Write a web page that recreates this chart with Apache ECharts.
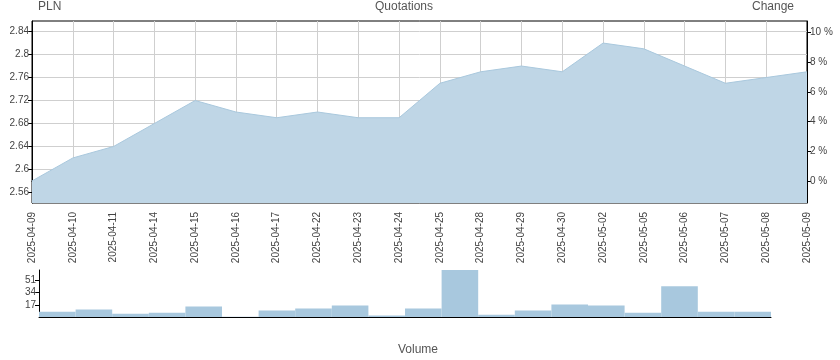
<!DOCTYPE html>
<html>
<head>
<meta charset="utf-8">
<script src="https://cdn.jsdelivr.net/npm/echarts@6/dist/echarts.min.js"></script>
<style>html,body{margin:0;padding:0;background:#fff}#c{width:840px;height:360px}</style>
</head>
<body>
<div id="c"></div>
<script>
const dates = ['2025-04-09','2025-04-10','2025-04-11','2025-04-14','2025-04-15','2025-04-16','2025-04-17','2025-04-22','2025-04-23','2025-04-24','2025-04-25','2025-04-28','2025-04-29','2025-04-30','2025-05-02','2025-05-05','2025-05-06','2025-05-07','2025-05-08','2025-05-09'];
const prices = [2.58,2.62,2.64,2.68,2.72,2.70,2.69,2.70,2.69,2.69,2.75,2.77,2.78,2.77,2.82,2.81,2.78,2.75,2.76,2.77];
const volumes = [7.5,10.4,4.7,6,14.6,0.5,9,12,16,2,12,65.6,3.3,9,17.4,16,6,43,7.5,7.5];
const priceTicks = [2.56,2.6,2.64,2.68,2.72,2.76,2.8,2.84];
const changeTicks = [0,2,4,6,8,10];
const volumeTicks = [17,34,51];

const pMin = Math.min(...prices), pMax = Math.max(...prices);
const pad = (pMax - pMin) * 0.16;
const axMin = pMin - pad, axMax = pMax + pad;
const base = prices[0];
const chMin = (axMin / base - 1) * 100, chMax = (axMax / base - 1) * 100;

const font = 'Liberation Sans, Arial, sans-serif';
const lblColor = '#444';
const tStyle = {fontSize: 12, fontWeight: 'normal', color: '#555', fontFamily: font};
const chart = echarts.init(document.getElementById('c'), null, {renderer: 'canvas'});
chart.setOption({
  animation: false,
  textStyle: {fontFamily: font},
  title: [
    {text: 'PLN', left: 38, top: 1, padding: 0, textStyle: tStyle},
    {text: 'Quotations', left: 375, top: 1, padding: 0, textStyle: tStyle},
    {text: 'Change', left: 752, top: 1, padding: 0, textStyle: tStyle},
    {text: 'Volume', left: 398, top: 344, padding: 0, textStyle: tStyle}
  ],
  grid: [
    {left: 32, right: 33, top: 21, height: 182, show: true, borderColor: '#000', borderWidth: 1, containLabel: false},
    {left: 39, right: 69, top: 270, height: 47, containLabel: false}
  ],
  xAxis: [
    {type: 'category', gridIndex: 0, data: dates, boundaryGap: false,
     axisLine: {lineStyle: {color: '#000'}},
     axisTick: {length: 3, lineStyle: {color: '#000'}},
     axisLabel: {rotate: 90, fontSize: 10, color: lblColor, margin: 9, interval: 0, fontFamily: font},
     splitLine: {show: true, lineStyle: {color: '#cfcfcf', width: 1}}},
    {type: 'category', gridIndex: 1, data: dates,
     axisLine: {lineStyle: {color: '#000', width: 1}},
     axisTick: {alignWithLabel: true, length: 3, interval: 0, lineStyle: {color: '#000'}},
     axisLabel: {show: false},
     splitLine: {show: false}}
  ],
  yAxis: [
    {type: 'value', gridIndex: 0, min: axMin, max: axMax, position: 'left',
     axisLine: {show: true, lineStyle: {color: '#000'}},
     axisTick: {show: true, length: 4, customValues: priceTicks, lineStyle: {color: '#000'}},
     axisLabel: {fontSize: 10, color: lblColor, margin: 3, customValues: priceTicks, fontFamily: font,
                 formatter: v => String(+v.toFixed(2))},
     splitLine: {show: true, customValues: priceTicks, lineStyle: {color: '#cfcfcf', width: 1}}},
    {type: 'value', gridIndex: 0, min: chMin, max: chMax, position: 'right',
     axisLine: {show: true, lineStyle: {color: '#000'}},
     axisTick: {show: true, length: 4, customValues: changeTicks, lineStyle: {color: '#000'}},
     axisLabel: {fontSize: 10, color: lblColor, margin: 3, customValues: changeTicks, fontFamily: font,
                 formatter: v => Math.round(v) + ' %'},
     splitLine: {show: false}},
    {type: 'value', gridIndex: 1, min: 0, max: Math.max(...volumes),
     axisLine: {show: true, lineStyle: {color: '#000'}},
     axisTick: {show: true, length: 4, customValues: volumeTicks, lineStyle: {color: '#000'}},
     axisLabel: {fontSize: 10, color: lblColor, margin: 3, customValues: volumeTicks, fontFamily: font},
     splitLine: {show: false}}
  ],
  series: [
    {type: 'line', xAxisIndex: 0, yAxisIndex: 0, data: prices, symbol: 'none',
     lineStyle: {color: '#a9c8dd', width: 1}, areaStyle: {color: '#bfd6e6', opacity: 1, origin: 'start'}},
    {type: 'bar', xAxisIndex: 1, yAxisIndex: 2, data: volumes, barCategoryGap: '0%',
     itemStyle: {color: '#a8c8de'}}
  ]
});
</script>
</body>
</html>
